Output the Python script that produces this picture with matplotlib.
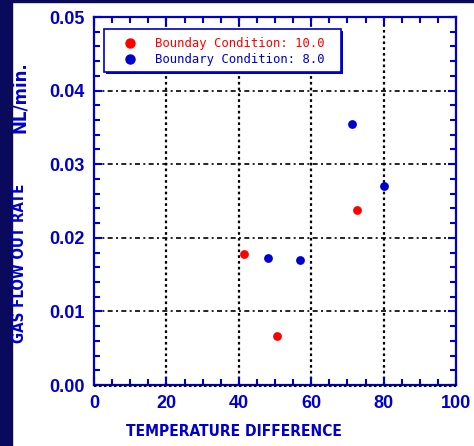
import matplotlib
matplotlib.use("Agg")
import matplotlib.pyplot as plt
from matplotlib.patches import Rectangle
from matplotlib.ticker import MultipleLocator

# measured points, two boundary conditions
red_x = [41.4, 50.6, 72.7]
red_y = [0.0178, 0.0066, 0.0238]
blue_x = [48.2, 56.9, 71.3, 80.1]
blue_y = [0.0173, 0.0170, 0.0355, 0.0270]
red_label = "Bounday Condition: 10.0"
blue_label = "Boundary Condition: 8.0"
x_ticks = [0, 20, 40, 60, 80, 100]
y_ticks = [0.00, 0.01, 0.02, 0.03, 0.04, 0.05]

BLUE = "#0000cc"
RED = "#ff0000"
NAVY = "#0a0a5c"

fig = plt.figure(figsize=(4.74, 4.46), dpi=100)
fig.patch.set_facecolor("white")
# slide frame strips
fig.patches.append(Rectangle((0, 0), 12/474, 1, transform=fig.transFigure, color=NAVY, zorder=0))
fig.patches.append(Rectangle((0, 1-2/446), 1, 2/446, transform=fig.transFigure, color=NAVY, zorder=0))

ax = fig.add_axes([94/474, 61/446, 362/474, 368/446])
ax.set_xlim(0, 100); ax.set_ylim(0, 0.05)

for x in x_ticks[1:-1]:
    ax.axvline(x, color="black", lw=1.6, ls=(0, (1.2, 1.4)), zorder=1)
for y in y_ticks[1:-1]:
    ax.axhline(y, color="black", lw=1.2, ls=(0, (3, 2, 1.2, 2)), zorder=1)
# dotted rule just under the bottom spine
ax.plot([0, 1], [-0.004, -0.004], transform=ax.transAxes, color="black", lw=1.5,
        ls=(0, (1.2, 1.2)), clip_on=False, zorder=4)

ax.scatter(red_x, red_y, s=40, color=RED, zorder=5, linewidths=0)
ax.scatter(blue_x, blue_y, s=40, color=BLUE, zorder=5, linewidths=0)

for s in ax.spines.values():
    s.set_color(BLUE); s.set_linewidth(1.6)
ax.spines["top"].set_linestyle((0, (2, 1)))

ax.set_xticks(x_ticks); ax.set_yticks(y_ticks)
ax.set_yticklabels([f"{v:.2f}" for v in y_ticks])
ax.xaxis.set_minor_locator(MultipleLocator(5))
ax.yaxis.set_minor_locator(MultipleLocator(0.002))
ax.tick_params(which="both", direction="in", top=True, right=True, color=BLUE, width=1.5)
ax.tick_params(which="major", length=6, labelsize=13, labelcolor=BLUE, pad=7)
ax.tick_params(which="minor", length=4)
for lab in ax.get_xticklabels() + ax.get_yticklabels():
    lab.set_fontweight("bold"); lab.set_family("Liberation Sans")

fig.text(234/474, 15/446, "TEMPERATURE DIFFERENCE", color=BLUE, fontsize=11.2,
         fontweight="bold", family="DejaVu Sans", fontstretch="condensed",
         ha="center", va="center")
fig.text(20/474, 1-263/446, "GAS FLOW OUT RATE", color=BLUE, fontsize=10.8,
         fontweight="bold", family="DejaVu Sans", fontstretch="condensed",
         rotation=90, ha="center", va="center")
fig.text(20/474, 1-97/446, "NL/min.", color=BLUE, fontsize=12,
         fontweight="bold", family="DejaVu Sans", rotation=90, ha="center", va="center")

# legend box with shadow
bx0, by0, bx1, by1 = 104/474, 1-72/446, 341/474, 1-29/446
fig.patches.append(Rectangle((bx0+2/474, by0-2/446), bx1-bx0, by1-by0, transform=fig.transFigure,
                             facecolor=BLUE, edgecolor="none", zorder=6))
fig.patches.append(Rectangle((bx0, by0), bx1-bx0, by1-by0, transform=fig.transFigure,
                             facecolor="white", edgecolor=BLUE, lw=1.2, zorder=7))
for yy, col, lab in [(43, RED, red_label), (59, BLUE, blue_label)]:
    fig.lines.append(plt.Line2D([130/474], [1-yy/446], transform=fig.transFigure, marker="o",
                                ms=6.5, color=col, mec=col, zorder=8))
    fig.text(155/474, 1-yy/446, lab, color=col, fontsize=8.8, family="DejaVu Sans Mono",
             ha="left", va="center", zorder=8)

fig.savefig("out.png", dpi=100)
